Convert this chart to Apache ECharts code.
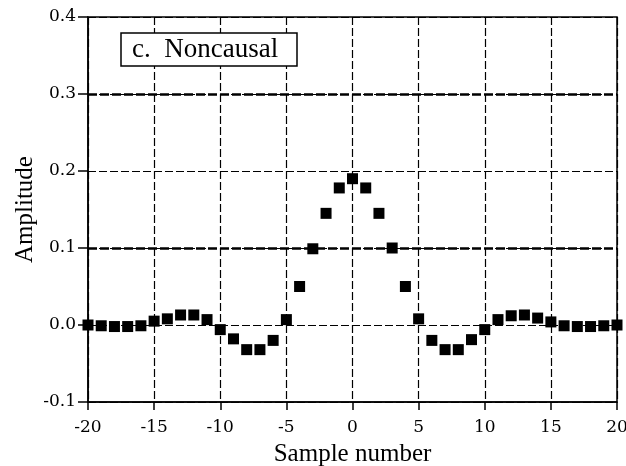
<!DOCTYPE html>
<html>
<head>
<meta charset="utf-8">
<script src="https://cdn.jsdelivr.net/npm/echarts@6/dist/echarts.min.js"></script>
<style>
  html, body { margin: 0; padding: 0; background: #fff; }
  #chart { width: 626px; height: 466px; }
</style>
</head>
<body>
<div id="chart"></div>
<script>
// sample numbers and filter kernel amplitudes
var samples = [-20, -19, -18, -17, -16, -15, -14, -13, -12, -11, -10, -9, -8, -7, -6, -5, -4, -3, -2, -1,
    0, 1, 2, 3, 4, 5, 6, 7, 8, 9, 10, 11, 12, 13, 14, 15, 16, 17, 18, 19, 20];
var amplitude = [0.0, -0.001, -0.002, -0.002, -0.001, 0.005, 0.008, 0.013, 0.013, 0.007, -0.006, -0.018, -0.032, -0.032, -0.02, 0.007, 0.05, 0.099, 0.145, 0.178,
    0.19, 0.178, 0.145, 0.1, 0.05, 0.008, -0.02, -0.032, -0.032, -0.019, -0.006, 0.007, 0.012, 0.013, 0.009, 0.004, -0.001, -0.002, -0.002, -0.001, 0.0];
var boldLines = [0.3, 0.1];

var serif = '"Liberation Serif", "DejaVu Serif", serif';
var tickFont = '"DejaVu Serif", "Liberation Serif", serif';

var points = [];
for (var i = 0; i < samples.length; i++) {
    points.push([samples[i], amplitude[i]]);
}

var myChart = echarts.init(document.getElementById('chart'));
var option = {
    animation: false,
    backgroundColor: '#fff',
    title: {
        text: 'c.  Noncausal',
        left: 121,
        top: 33,
        padding: [3, 19, 3, 11],
        backgroundColor: '#fff',
        borderColor: '#000',
        borderWidth: 1.5,
        textStyle: { fontFamily: serif, fontSize: 27, fontWeight: 'normal', color: '#000' }
    },
    grid: {
        left: 88, right: 9, top: 17, bottom: 64,
        outerBoundsMode: 'none',
        containLabel: false,
        show: true, borderColor: '#000', borderWidth: 1.5
    },
    xAxis: {
        type: 'value',
        min: -20, max: 20, interval: 5,
        name: 'Sample number',
        nameLocation: 'middle',
        nameGap: 40,
        nameMoveOverlap: false,
        nameTextStyle: { fontFamily: serif, fontSize: 25, color: '#000' },
        axisLine: { onZero: false, lineStyle: { color: '#000', width: 1.5 } },
        axisTick: { inside: false, length: 8, lineStyle: { color: '#000', width: 1.5 } },
        axisLabel: { fontFamily: tickFont, fontSize: 17, color: '#000', margin: 17 },
        splitLine: { show: true, lineStyle: { color: '#000', type: [8, 3], width: 1.2 } }
    },
    yAxis: {
        type: 'value',
        min: -0.1, max: 0.4, interval: 0.1,
        name: 'Amplitude',
        nameLocation: 'middle',
        nameGap: 50,
        nameMoveOverlap: false,
        nameTextStyle: { fontFamily: serif, fontSize: 25, color: '#000' },
        axisLine: { onZero: false, lineStyle: { color: '#000', width: 1.5 } },
        axisTick: { inside: false, length: 10, lineStyle: { color: '#000', width: 1.5 } },
        axisLabel: {
            fontFamily: tickFont, fontSize: 17, color: '#000', margin: 12,
            formatter: function (v) { return v.toFixed(1); }
        },
        splitLine: { show: true, lineStyle: { color: '#000', type: [8, 3], width: 1.2 } }
    },
    series: [{
        type: 'scatter',
        symbol: 'rect',
        symbolSize: 11,
        itemStyle: { color: '#000', opacity: 1 },
        data: points,
        markLine: {
            silent: true,
            symbol: 'none',
            label: { show: false },
            lineStyle: { color: '#000', type: [9, 3], width: 2.5, opacity: 1 },
            data: boldLines.map(function (v) { return { yAxis: v }; })
        }
    }]
};
myChart.setOption(option);
</script>
</body>
</html>
